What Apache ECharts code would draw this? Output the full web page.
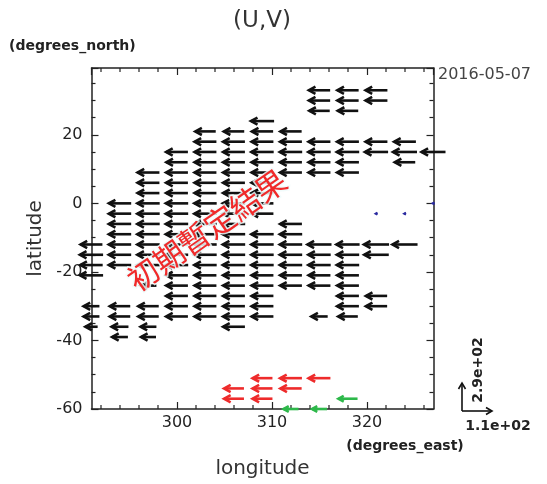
<!DOCTYPE html>
<html>
<head>
<meta charset="utf-8">
<script src="https://cdn.jsdelivr.net/npm/echarts@6/dist/echarts.min.js"></script>
<style>
  html, body { margin: 0; padding: 0; background: #fff; }
  #main { width: 547px; height: 484px; }
</style>
</head>
<body>
<div id="main"></div>
<script>
// grid columns (degrees_east)
var lonGrid = [291, 294, 297, 300, 303, 306, 309, 312, 315, 318, 321, 324, 327];
var xMin = 291, xMax = 327;
var yMin = -60, yMax = 39.5;
var xMinorTicks = [292, 294, 296, 298, 302, 304, 306, 308, 312, 314, 316, 318, 322, 324, 326];
// vector key
var refU = 110, refV = 290;
var refLen = 30;

// [lat, [column index, u], ...]   (v is ~0 everywhere)
var blackRows = [
  [33, [8, -78], [9, -78], [10, -80]],
  [30, [8, -78], [9, -78], [10, -80]],
  [27, [8, -75], [9, -75]],
  [24, [6, -85]],
  [21, [4, -75], [5, -75], [6, -78], [7, -78]],
  [18, [4, -80], [5, -80], [6, -80], [7, -80], [8, -80], [9, -80], [10, -80], [11, -80]],
  [15, [3, -80], [4, -80], [5, -80], [6, -82], [7, -82], [8, -82], [9, -82], [10, -85], [11, -88], [12, -88]],
  [12, [3, -78], [4, -80], [5, -80], [6, -80], [7, -80], [8, -80], [9, -80], [11, -75]],
  [9, [2, -80], [3, -80], [4, -80], [5, -80], [6, -80], [7, -80], [8, -80], [9, -80]],
  [6, [2, -80], [3, -80], [4, -80], [5, -80], [6, -80]],
  [3, [2, -80], [3, -80], [4, -80], [5, -80], [6, -80]],
  [0, [1, -82], [2, -82], [3, -82], [4, -82], [5, -82], [6, -80]],
  [-3, [1, -82], [2, -82], [3, -82], [4, -82], [5, -82], [6, -80]],
  [-6, [1, -82], [2, -82], [3, -82], [4, -82], [5, -82], [7, -80]],
  [-9, [1, -82], [2, -82], [3, -82], [4, -82], [5, -82], [6, -82], [7, -82]],
  [-12, [0, -80], [1, -82], [2, -82], [3, -82], [4, -82], [5, -82], [6, -82], [7, -82], [8, -88], [9, -85], [10, -92], [11, -92]],
  [-15, [0, -85], [1, -82], [2, -82], [3, -82], [4, -82], [5, -82], [6, -82], [7, -82], [8, -82], [9, -82], [10, -90]],
  [-18, [0, -82], [1, -82], [2, -82], [3, -82], [4, -82], [5, -82], [6, -82], [7, -82], [8, -82], [9, -82]],
  [-21, [0, -85], [3, -80], [4, -80], [5, -80], [6, -80], [7, -80], [8, -80], [9, -80]],
  [-24, [2, -58], [3, -80], [4, -80], [5, -80], [6, -80], [7, -80], [8, -80], [9, -80]],
  [-27, [3, -80], [4, -80], [5, -80], [6, -80], [9, -80], [10, -78]],
  [-30, [0, -58], [1, -75], [2, -75], [3, -80], [4, -80], [5, -80], [6, -80], [9, -80], [10, -78]],
  [-33, [0, -58], [1, -75], [2, -75], [3, -80], [4, -80], [5, -80], [6, -80], [8, -60], [9, -72]],
  [-36, [0, -45], [1, -62], [2, -58], [5, -80]],
  [-39, [1, -58], [2, -55]]
];
var redRows = [
  [-51, [6, -73], [7, -80], [8, -80]],
  [-54, [5, -73], [6, -73], [7, -78]],
  [-57, [5, -73], [6, -73]]
];
var greenRows = [
  [-57, [9, -70]],
  [-60, [7, -55], [8, -55]]
];
var blueRows = [
  [0, [12, -6]],
  [-3, [10, -6], [11, -6]]
];

function toVectors(rows) {
  var out = [];
  rows.forEach(function (r) {
    for (var i = 1; i < r.length; i++) {
      out.push([lonGrid[r[i][0]], r[0], r[i][1], 0]);
    }
  });
  return out;
}

var pxPerU = refLen / refU;
var pxPerV = refLen / refV;

function arrowItem(color, lw, head) {
  return function (params, api) {
    var p = api.coord([api.value(0), api.value(1)]);
    var dx = api.value(2) * pxPerU;
    var dy = -api.value(3) * pxPerV;
    var x0 = p[0] - dx / 2, y0 = p[1] - dy / 2;
    var x1 = p[0] + dx / 2, y1 = p[1] + dy / 2;
    var a = Math.atan2(y1 - y0, x1 - x0);
    var w = 0.5;
    var pts = [
      [x1 - head * Math.cos(a - w), y1 - head * Math.sin(a - w)],
      [x1, y1],
      [x1 - head * Math.cos(a + w), y1 - head * Math.sin(a + w)]
    ];
    return {
      type: 'group',
      children: [
        { type: 'line', shape: { x1: x0, y1: y0, x2: x1, y2: y1 }, style: { stroke: color, lineWidth: lw } },
        { type: 'polyline', shape: { points: pts }, style: { stroke: color, fill: null, lineWidth: lw } }
      ]
    };
  };
}

var myChart = echarts.init(document.getElementById('main'));
var txt = '#222';
var font = 'DejaVu Sans';

function axisCommon(extra) {
  var base = {
    type: 'value',
    axisLine: { show: true, onZero: false, lineStyle: { color: txt, width: 1.5 } },
    axisTick: { show: true, inside: true, length: 7, lineStyle: { color: txt, width: 1.2 } },
    splitLine: { show: false }
  };
  for (var k in extra) base[k] = extra[k];
  return base;
}

var option = {
  backgroundColor: '#fff',
  animation: false,
  grid: { left: 91.5, top: 68, width: 342, height: 343, containLabel: false },
  xAxis: [
    axisCommon({
      min: xMin, max: xMax, splitNumber: 4, position: 'bottom',
      name: 'longitude', nameLocation: 'middle', nameGap: 50,
      nameTextStyle: { fontFamily: font, fontSize: 20, color: '#333' },
      axisLabel: { fontFamily: font, fontSize: 16, color: txt, margin: 6, showMinLabel: false, showMaxLabel: false }
    }),
    axisCommon({
      min: xMin, max: xMax, splitNumber: 4, position: 'top',
      axisLabel: { show: false }
    })
  ],
  yAxis: [
    axisCommon({
      min: yMin, max: yMax, interval: 20, position: 'left',
      name: 'latitude', nameLocation: 'middle', nameGap: 40, nameRotate: 90,
      nameTextStyle: { fontFamily: font, fontSize: 20, color: '#333' },
      minorTick: { show: true, splitNumber: 4, length: 4, lineStyle: { color: txt, width: 1.2 } },
      axisLabel: { fontFamily: font, fontSize: 16, color: txt, margin: 9, showMaxLabel: false }
    }),
    axisCommon({
      min: yMin, max: yMax, interval: 20, position: 'right',
      minorTick: { show: true, splitNumber: 4, length: 4, lineStyle: { color: txt, width: 1.2 } },
      axisLabel: { show: false }
    })
  ],
  series: [
    {
      type: 'custom', coordinateSystem: 'cartesian2d', silent: true, clip: false,
      data: xMinorTicks.map(function (v) { return [v, yMin]; }),
      renderItem: function (params, api) {
        var p = api.coord([api.value(0), yMin]);
        var top = params.coordSys.y, bottom = params.coordSys.y + params.coordSys.height;
        var st = { stroke: txt, lineWidth: 1.2 };
        return {
          type: 'group',
          children: [
            { type: 'line', shape: { x1: p[0], y1: bottom, x2: p[0], y2: bottom - 4 }, style: st },
            { type: 'line', shape: { x1: p[0], y1: top, x2: p[0], y2: top + 4 }, style: st }
          ]
        };
      }
    },
    { type: 'custom', name: 'black', coordinateSystem: 'cartesian2d', silent: true, clip: false,
      data: toVectors(blackRows), renderItem: arrowItem('#111', 2.6, 7.5) },
    { type: 'custom', name: 'red', coordinateSystem: 'cartesian2d', silent: true, clip: false,
      data: toVectors(redRows), renderItem: arrowItem('#ee2b2b', 2.6, 7.5) },
    { type: 'custom', name: 'green', coordinateSystem: 'cartesian2d', silent: true, clip: false,
      data: toVectors(greenRows), renderItem: arrowItem('#2db84a', 2.6, 6) },
    { type: 'custom', name: 'blue', coordinateSystem: 'cartesian2d', silent: true, clip: false,
      data: toVectors(blueRows), renderItem: arrowItem('#2b2ba0', 2, 2) }
  ],
  graphic: [
    { type: 'text', x: 262, y: 21, z: 10,
      style: { text: '(U,V)', fontFamily: font, fontSize: 23, fill: '#333', align: 'center', verticalAlign: 'middle' } },
    { type: 'text', x: 9, y: 46, z: 10,
      style: { text: '(degrees_north)', fontFamily: font, fontWeight: 'bold', fontSize: 14, fill: txt, align: 'left', verticalAlign: 'middle' } },
    { type: 'text', x: 438, y: 75, z: 10,
      style: { text: '2016-05-07', fontFamily: font, fontSize: 16, fill: '#444', align: 'left', verticalAlign: 'middle' } },
    { type: 'text', x: 405, y: 446, z: 10,
      style: { text: '(degrees_east)', fontFamily: font, fontWeight: 'bold', fontSize: 14, fill: txt, align: 'center', verticalAlign: 'middle' } },
    // vector key
    { type: 'group', x: 462, y: 411, z: 10, silent: true,
      children: [
        { type: 'line', shape: { x1: 0, y1: 0, x2: refLen, y2: 0 }, style: { stroke: '#111', lineWidth: 1.6 } },
        { type: 'polyline', shape: { points: [[refLen - 6, -3.5], [refLen, 0], [refLen - 6, 3.5]] }, style: { stroke: '#111', fill: null, lineWidth: 1.6 } },
        { type: 'line', shape: { x1: 0, y1: 0, x2: 0, y2: -refLen + 2 }, style: { stroke: '#111', lineWidth: 1.6 } },
        { type: 'polyline', shape: { points: [[-3.5, -refLen + 8], [0, -refLen + 2], [3.5, -refLen + 8]] }, style: { stroke: '#111', fill: null, lineWidth: 1.6 } }
      ] },
    { type: 'text', x: 498, y: 426, z: 10,
      style: { text: refU.toExponential(1).replace('e+', 'e+0'), fontFamily: font, fontWeight: 'bold', fontSize: 14, fill: txt, align: 'center', verticalAlign: 'middle' } },
    { type: 'text', x: 478, y: 370, z: 10, rotation: Math.PI / 2,
      style: { text: refV.toExponential(1).replace('e+', 'e+0'), fontFamily: font, fontWeight: 'bold', fontSize: 14, fill: txt, align: 'center', verticalAlign: 'middle' } },
    // watermark
    { type: 'text', x: 207, y: 230, z: 20, rotation: 0.61, silent: true,
      style: { text: '初期暫定結果', fontFamily: 'Noto Sans CJK TC', fontSize: 31, fill: '#f02a2a',
        stroke: 'rgba(240,252,252,0.85)', lineWidth: 3, align: 'center', verticalAlign: 'middle' } }
  ]
};

myChart.setOption(option);
</script>
</body>
</html>
